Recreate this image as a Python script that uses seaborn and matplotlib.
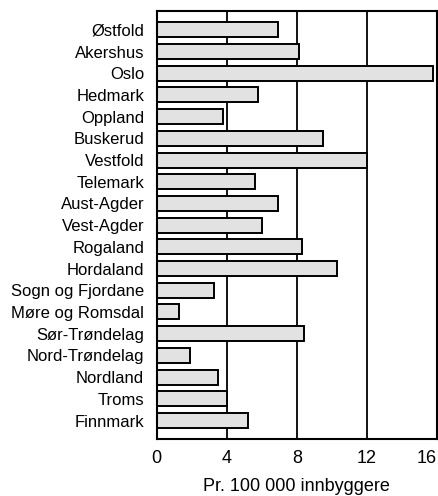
import matplotlib
matplotlib.use("Agg")
import matplotlib.pyplot as plt
import seaborn as sns
import pandas as pd

fylker = ["Østfold", "Akershus", "Oslo", "Hedmark", "Oppland", "Buskerud",
          "Vestfold", "Telemark", "Aust-Agder", "Vest-Agder", "Rogaland",
          "Hordaland", "Sogn og Fjordane", "Møre og Romsdal", "Sør-Trøndelag",
          "Nord-Trøndelag", "Nordland", "Troms", "Finnmark"]
verdier = [6.9, 8.1, 15.8, 5.8, 3.8, 9.5, 12.0, 5.6, 6.9, 6.0, 8.3,
           10.3, 3.3, 1.3, 8.4, 1.9, 3.5, 4.0, 5.2]
xticks = [0, 4, 8, 12, 16]

df = pd.DataFrame({"fylke": fylker, "verdi": verdier})

sns.set_style("white")
plt.rcParams['font.family'] = ['Liberation Sans', 'DejaVu Sans']
plt.rcParams['text.color'] = 'black'
plt.rcParams['xtick.color'] = 'black'
plt.rcParams['ytick.color'] = 'black'
plt.rcParams['axes.labelcolor'] = 'black'

fig = plt.figure(figsize=(4.39, 4.96), dpi=100)
ax = fig.add_axes([0.357, 0.115, 0.638, 0.863])

for x in xticks[1:-1]:
    ax.axvline(x, color='black', lw=1.3, zorder=0)

sns.barplot(data=df, x="verdi", y="fylke", orient="h", color="#e2e2e2",
            edgecolor="black", linewidth=1.4, width=0.69, saturation=1, ax=ax, zorder=2)

ax.set_xlim(0, 16)
ax.set_ylim(18.85, -0.87)
ax.set_xticks(xticks)
ax.set_xticks([2, 6, 10, 14], minor=True)
ax.tick_params(axis='x', which='major', length=0, labelsize=13, pad=8)
ax.tick_params(axis='x', which='minor', direction='in', length=4, width=1.2, color='black')
ax.tick_params(axis='y', length=0, labelsize=12, pad=9)
ax.get_xticklabels()[-1].set_horizontalalignment('right')
for s in ax.spines.values():
    s.set_color('black')
    s.set_linewidth(1.5)
ax.set_xlabel("Pr. 100 000 innbyggere", fontsize=13, labelpad=8)
ax.set_ylabel("")

fig.savefig("out.png", dpi=100)
